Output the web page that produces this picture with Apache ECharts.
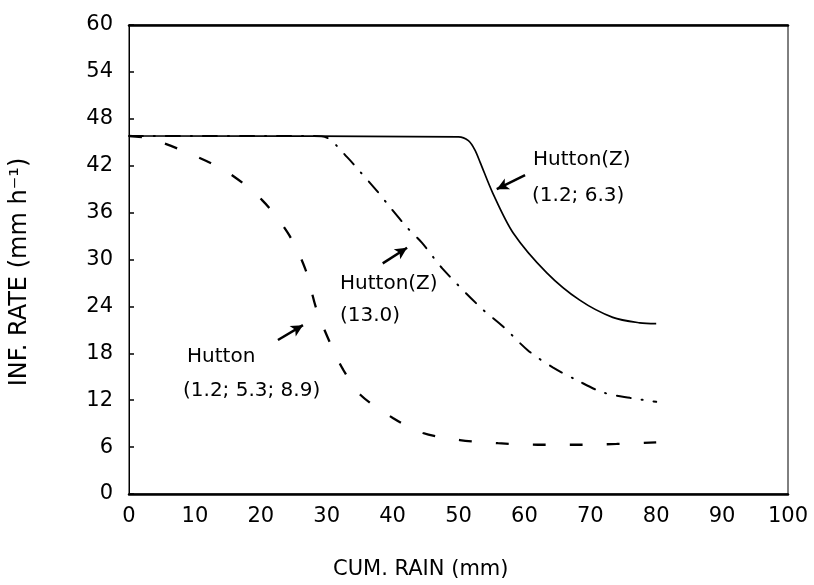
<!DOCTYPE html>
<html>
<head>
<meta charset="utf-8">
<script src="https://cdn.jsdelivr.net/npm/echarts@6/dist/echarts.min.js"></script>
<style>
html, body { margin: 0; padding: 0; background: #fff; }
#chart { width: 814px; height: 585px; }
</style>
</head>
<body>
<div id="chart"></div>
<script>
// cumulative rain (mm) vs infiltration rate (mm h-1)
const huttonZ63 = [
	[0, 45.8], [50, 45.7], [51.5, 45.2], [52.5, 44.0], [53.3, 42.4], [55.2, 38.5],
	[58.3, 33.4], [63.4, 28.3], [68.4, 24.8], [73.4, 22.6], [77.5, 21.9], [80, 21.8],
]
const huttonZ130 = [
	[0, 45.8], [28, 45.8], [30, 45.6], [33.1, 43.1], [35.1, 41.2], [37.8, 38.6],
	[39.6, 36.7], [42.3, 34.0], [44.5, 32.1], [47.5, 28.9], [53.3, 23.9], [56.8, 21.4],
	[60.5, 18.4], [64.3, 16.2], [68.1, 14.5], [71.9, 13.0], [76, 12.3], [80, 11.8],
]
const hutton = [
	[0, 45.8], [3, 45.5], [8.8, 43.7], [14.9, 41.2], [20.2, 37.6], [24.1, 33.4],
	[26.7, 28.9], [28.5, 23.5], [31, 18.4], [32.5, 15.9], [35.1, 12.7], [40.1, 9.7],
	[44.6, 7.8], [50.2, 6.9], [56, 6.5], [62, 6.3], [68, 6.3], [74, 6.4], [80, 6.6],
]
// arrows from label to curve: [from, to]
const arrowZ63 = [[60.1, 40.8], [55.8, 39.0]]
const arrowZ130 = [[38.5, 29.5], [42.2, 31.5]]
const arrowHutton = [[22.6, 19.7], [26.4, 21.6]]

const font = 'DejaVu Sans'

function arrow(pts) {
	return {
		silent: true,
		animation: false,
		symbol: ['none', 'arrow'],
		symbolSize: [9, 12],
		label: { show: false },
		lineStyle: { color: '#000', type: 'solid', width: 2.5 },
		data: [[{ coord: pts[0] }, { coord: pts[1] }]],
	}
}

function note(text, x, y) {
	return {
		type: 'text',
		left: x,
		top: y,
		style: { text: text, font: '20px ' + font, fill: '#000' },
	}
}

const chart = echarts.init(document.getElementById('chart'))
chart.setOption({
	animation: false,
	backgroundColor: '#fff',
	grid: {
		left: 129,
		right: 26,
		top: 25,
		bottom: 91,
		show: true,
		borderColor: '#000',
		borderWidth: 1,
	},
	xAxis: [
		{
			type: 'value',
			min: 0,
			max: 100,
			interval: 10,
			splitLine: { show: false },
			axisTick: { show: false },
			axisLine: { lineStyle: { color: '#000', width: 2.5 } },
			axisLabel: { color: '#000', fontFamily: font, fontSize: 21, margin: 12 },
		},
		{
			type: 'value',
			position: 'top',
			min: 0,
			max: 100,
			splitLine: { show: false },
			axisTick: { show: false },
			axisLabel: { show: false },
			axisLine: { lineStyle: { color: '#000', width: 2.5 } },
		},
	],
	yAxis: {
		type: 'value',
		min: 0,
		max: 60,
		interval: 6,
		splitLine: { show: false },
		axisLine: { show: true, lineStyle: { color: '#000', width: 1 } },
		axisTick: { show: true, inside: true, length: 5, lineStyle: { color: '#000', width: 1.5 } },
		axisLabel: { color: '#000', fontFamily: font, fontSize: 21, margin: 16 },
	},
	series: [
		{
			name: 'Hutton(Z) (1.2; 6.3)',
			type: 'line',
			data: huttonZ63,
			showSymbol: false,
			smooth: 0.3,
			lineStyle: { color: '#000', width: 1.7 },
			markLine: arrow(arrowZ63),
		},
		{
			name: 'Hutton(Z) (13.0)',
			type: 'line',
			data: huttonZ130,
			showSymbol: false,
			smooth: 0.3,
			lineStyle: { color: '#000', width: 2, type: [14, 11, 1, 11], cap: 'round' },
			markLine: arrow(arrowZ130),
		},
		{
			name: 'Hutton (1.2; 5.3; 8.9)',
			type: 'line',
			data: hutton,
			showSymbol: false,
			smooth: 0.3,
			lineStyle: { color: '#000', width: 2.3, type: [13, 24] },
			markLine: arrow(arrowHutton),
		},
	],
	graphic: [
		note('Hutton(Z)', 533, 150),
		note('(1.2; 6.3)', 532, 186),
		note('Hutton(Z)', 340, 274),
		note('(13.0)', 340, 306),
		note('Hutton', 187, 347),
		note('(1.2; 5.3; 8.9)', 183, 381),
		{
			type: 'text',
			left: 333,
			top: 559,
			style: { text: 'CUM. RAIN (mm)', font: '21px ' + font, fill: '#000' },
		},
		{
			type: 'text',
			x: 20,
			y: 272,
			rotation: Math.PI / 2,
			style: {
				text: 'INF. RATE (mm h⁻¹)',
				font: '24px ' + font,
				fill: '#000',
				align: 'center',
				verticalAlign: 'middle',
			},
		},
	],
})
</script>
</body>
</html>
